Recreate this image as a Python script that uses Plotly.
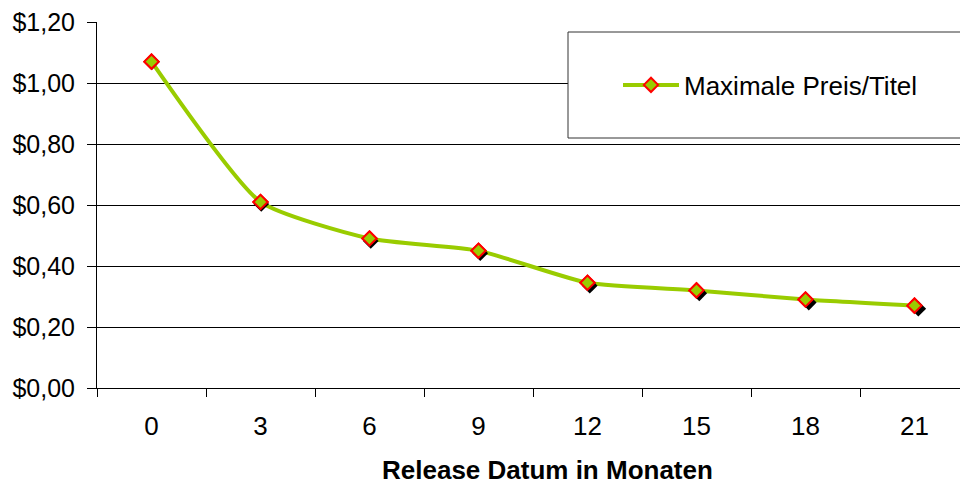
import plotly.graph_objects as go

# ---- data ----
months = ["0", "3", "6", "9", "12", "15", "18", "21"]
max_price = [1.07, 0.61, 0.49, 0.45, 0.345, 0.32, 0.29, 0.27]
y_tick_values = [0.0, 0.2, 0.4, 0.6, 0.8, 1.0, 1.2]
y_tick_labels = ["$0,00", "$0,20", "$0,40", "$0,60", "$0,80", "$1,00", "$1,20"]
series_name = "Maximale Preis/Titel"
x_title = "Release Datum in Monaten"

# ---- layout geometry (pixels) ----
W, H = 960, 485
ML, MT, MB, MR = 97, 22, 97, 0
plot_w = W - ML - MR
plot_h = H - MT - MB
cat_w = 109.0
x_range = [-0.5, -0.5 + plot_w / cat_w]
y_range = [0.0, 1.2]
px_per_unit_y = plot_h / (y_range[1] - y_range[0])
shadow = 4  # px offset of marker shadow

GREEN = "#99CC00"
FONT = "Arial, 'Liberation Sans', sans-serif"

fig = go.Figure()

# line (with markers, used for legend)
fig.add_trace(go.Scatter(
    x=months, y=max_price, name=series_name, mode="lines+markers",
    line=dict(color=GREEN, width=4, shape="spline", smoothing=0.55),
    marker=dict(symbol="diamond", size=11, color=GREEN,
                line=dict(color="#FF0000", width=2)),
    xaxis="x", yaxis="y", showlegend=True,
))
# marker shadows (offset axes)
fig.add_trace(go.Scatter(
    x=months, y=max_price, mode="markers",
    marker=dict(symbol="diamond", size=12, color="#000000", line=dict(width=0)),
    xaxis="x2", yaxis="y2", showlegend=False, hoverinfo="skip",
))
# markers on top
fig.add_trace(go.Scatter(
    x=months, y=max_price, mode="markers",
    marker=dict(symbol="diamond", size=11, color=GREEN,
                line=dict(color="#FF0000", width=2)),
    xaxis="x3", yaxis="y3", showlegend=False, hoverinfo="skip",
))

dx = shadow / plot_w
dy = shadow / plot_h

fig.update_layout(
    width=W, height=H,
    margin=dict(l=ML, r=MR, t=MT, b=MB, pad=0),
    paper_bgcolor="white", plot_bgcolor="white",
    font=dict(family=FONT, color="black", size=26),
    xaxis=dict(
        type="category", categoryorder="array", categoryarray=months,
        range=x_range, domain=[0, 1],
        tickson="boundaries", ticks="outside", ticklen=8, tickwidth=1, tickcolor="black",
        showline=True, linecolor="black", linewidth=1,
        showgrid=False, zeroline=False,
        tickfont=dict(size=26, family=FONT),
        ticklabelstandoff=15,
    ),
    yaxis=dict(
        range=y_range, domain=[0, 1],
        tickvals=y_tick_values, ticktext=y_tick_labels,
        ticks="outside", ticklen=9, tickwidth=1, tickcolor="black",
        showline=True, linecolor="black", linewidth=1,
        showgrid=True, gridcolor="black", gridwidth=1, zeroline=False,
        tickfont=dict(size=25, family=FONT),
        ticklabelstandoff=7,
    ),
    xaxis2=dict(
        type="category", categoryorder="array", categoryarray=months,
        overlaying="x", domain=[dx, 1],
        range=[x_range[0], x_range[1] - shadow / cat_w],
        visible=False,
    ),
    yaxis2=dict(
        overlaying="y", domain=[0, 1 - dy],
        range=[y_range[0] + shadow / px_per_unit_y, y_range[1]],
        visible=False,
    ),
    xaxis3=dict(
        type="category", categoryorder="array", categoryarray=months,
        overlaying="x", domain=[0, 1], range=x_range, visible=False,
    ),
    yaxis3=dict(overlaying="y", domain=[0, 1], range=y_range, visible=False),
    showlegend=True,
    legend=dict(
        x=(618 - ML) / plot_w, y=(H - MB - 85) / plot_h,
        xanchor="left", yanchor="middle",
        bgcolor="rgba(0,0,0,0)", borderwidth=0,
        font=dict(size=26, family=FONT),
        itemwidth=56,
    ),
    shapes=[dict(
        type="rect", xref="paper", yref="paper", layer="above",
        x0=(568 - ML) / plot_w, x1=1.1,
        y0=(H - MB - 138) / plot_h, y1=(H - MB - 32) / plot_h,
        line=dict(color="#333333", width=1), fillcolor="white",
    )],
    annotations=[dict(
        text="<b>" + x_title + "</b>", xref="paper", yref="paper",
        x=(547 - ML) / plot_w, y=-(470 - (H - MB)) / plot_h,
        xanchor="center", yanchor="middle", showarrow=False, borderpad=0,
        font=dict(size=26, family=FONT, color="black"),
    )],
)

fig.write_html("out.html")
